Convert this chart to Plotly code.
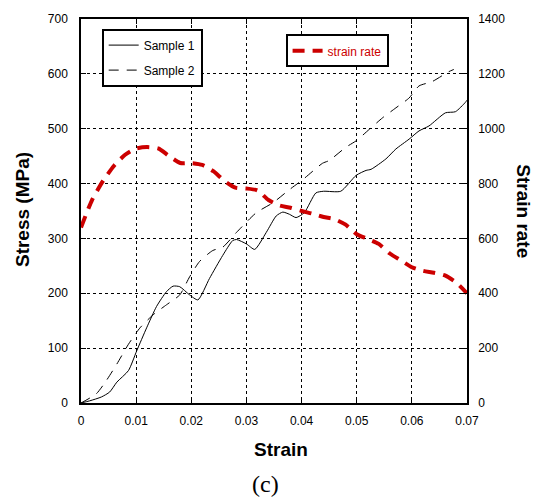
import plotly.graph_objects as go

# Sample 1 (solid)
s1_strain = [0, 0.0016, 0.0037, 0.0052, 0.0065, 0.0086, 0.0101, 0.0119, 0.0137, 0.0155, 0.0167,
             0.0179, 0.0197, 0.0212, 0.0233, 0.0257, 0.0275, 0.0282, 0.0300, 0.0315, 0.0336,
             0.0354, 0.0366, 0.0378, 0.0390, 0.0405, 0.0426, 0.0440, 0.0471, 0.0499, 0.0517,
             0.0526, 0.0553, 0.0571, 0.0595, 0.0613, 0.0631, 0.0661, 0.0679, 0.0697, 0.0700]
s1_stress = [0, 4, 11, 20, 38, 59, 95, 137, 176, 203, 213,
             212, 197, 188, 227, 269, 296, 298, 290, 280, 311,
             341, 348, 344, 338, 347, 383, 386, 386, 415, 424,
             426, 445, 463, 481, 496, 505, 529, 531, 548, 552]

# Sample 2 (dashed)
s2_strain = [0, 0.0028, 0.0046, 0.0065, 0.0086, 0.0107, 0.0131, 0.0155, 0.0179, 0.0197,
             0.0215, 0.0239, 0.0257, 0.0282, 0.0318, 0.0348, 0.0378, 0.0402, 0.0438, 0.0450,
             0.0480, 0.0499, 0.0523, 0.0547, 0.0571, 0.0595, 0.0613, 0.0637, 0.0667, 0.0676]
s2_stress = [0, 17, 41, 71, 107, 137, 161, 179, 197, 230,
             258, 278, 284, 311, 347, 365, 389, 407, 437, 442,
             466, 478, 499, 520, 538, 556, 578, 586, 604, 608]

# Strain rate (right axis)
sr_strain = [0, 0.002, 0.004, 0.006, 0.008, 0.010, 0.012, 0.014, 0.016, 0.018, 0.020,
             0.022, 0.024, 0.026, 0.028, 0.030, 0.032, 0.034, 0.036, 0.038, 0.040,
             0.042, 0.044, 0.046, 0.048, 0.050, 0.052, 0.054, 0.056, 0.058, 0.060,
             0.062, 0.064, 0.066, 0.068, 0.070]
sr_rate = [640, 740, 810, 865, 905, 928, 933, 928, 900, 875, 875,
           868, 845, 810, 785, 782, 775, 740, 720, 712, 700,
           690, 678, 670, 650, 615, 598, 580, 545, 520, 495,
           482, 475, 465, 440, 400]

x_ticks = [0, 0.01, 0.02, 0.03, 0.04, 0.05, 0.06, 0.07]
x_ticklabels = ["0", "0.01", "0.02", "0.03", "0.04", "0.05", "0.06", "0.07"]

FONT = "Liberation Sans, Arial, sans-serif"

fig = go.Figure()
fig.add_trace(go.Scatter(x=s1_strain, y=s1_stress, mode="lines", name="Sample 1",
                         line=dict(color="black", width=1, shape="spline", smoothing=0.6),
                         legend="legend", legendgroup="a"))
fig.add_trace(go.Scatter(x=s2_strain, y=s2_stress, mode="lines", name="Sample 2",
                         line=dict(color="black", width=1, dash="10px,8px", shape="spline", smoothing=0.6),
                         legend="legend", legendgroup="b"))
fig.add_trace(go.Scatter(x=sr_strain, y=sr_rate, mode="lines", name="strain rate",
                         line=dict(color="#cc0000", width=4, dash="12px,8px", shape="spline", smoothing=0.6),
                         yaxis="y2", legend="legend2"))

fig.update_layout(
    width=535, height=499,
    margin=dict(l=81, r=68, t=13, b=96),
    paper_bgcolor="white", plot_bgcolor="white",
    font=dict(family=FONT, size=12, color="black"),
    xaxis=dict(range=[0, 0.07], tickvals=x_ticks, ticktext=x_ticklabels,
               showgrid=True, gridcolor="black", griddash="dot", gridwidth=1,
               showline=True, linecolor="black", linewidth=1.5, mirror="ticks",
               ticks="inside", ticklen=5, tickcolor="black", zeroline=False,
               ticklabelstandoff=6, tickfont=dict(size=12)),
    yaxis=dict(range=[0, 700], dtick=100,
               showgrid=True, gridcolor="black", griddash="dot", gridwidth=1,
               showline=True, linecolor="black", linewidth=1.5,
               ticks="inside", ticklen=5, tickcolor="black", zeroline=False,
               ticklabelstandoff=9, tickfont=dict(size=12)),
    yaxis2=dict(range=[0, 1400], dtick=200, overlaying="y", side="right",
                showgrid=False, showline=True, linecolor="black", linewidth=1.5,
                ticks="inside", ticklen=5, tickcolor="black", zeroline=False,
                ticklabelstandoff=7, tickfont=dict(size=12)),
    legend=dict(x=0.0536, y=0.975, xanchor="left", yanchor="top",
                bgcolor="white", bordercolor="black", borderwidth=2,
                font=dict(size=12, color="black"), tracegroupgap=6),
    legend2=dict(x=0.53, y=0.96, xanchor="left", yanchor="top",
                 bgcolor="white", bordercolor="black", borderwidth=2,
                 font=dict(size=12, color="#cc0000")),
    annotations=[
        dict(text="<b>Strain</b>", x=0.518, y=-0.122, xref="paper", yref="paper",
             showarrow=False, font=dict(size=19, family=FONT), xanchor="center", yanchor="middle"),
        dict(text="<b>Stress (MPa)</b>", x=-0.153, y=0.505, xref="paper", yref="paper",
             showarrow=False, textangle=-90, font=dict(size=19, family=FONT),
             xanchor="center", yanchor="middle"),
        dict(text="<b>Strain rate</b>", x=1.147, y=0.5, xref="paper", yref="paper",
             showarrow=False, textangle=90, font=dict(size=19, family=FONT),
             xanchor="center", yanchor="middle"),
        dict(text="(c)", x=0.479, y=-0.21, xref="paper", yref="paper",
             showarrow=False, font=dict(size=24, family="Liberation Serif, Times New Roman, serif"),
             xanchor="center", yanchor="middle"),
    ],
)

fig.write_html("out.html")
